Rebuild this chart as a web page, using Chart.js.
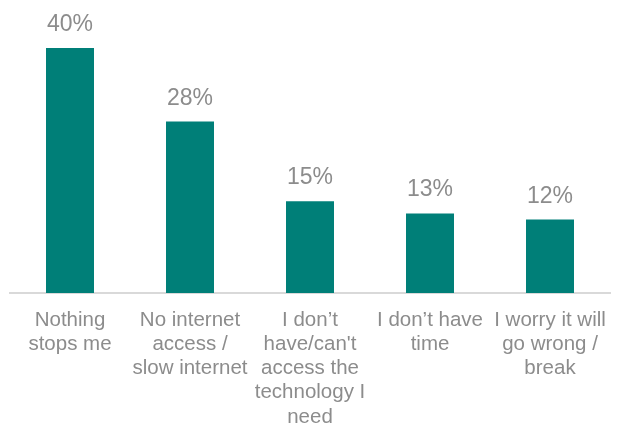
<!DOCTYPE html>
<html>
<head>
<meta charset="utf-8">
<script src="https://cdn.jsdelivr.net/npm/chart.js@4"></script>
<style>
    html, body { margin: 0; padding: 0; background: #ffffff; }
    #wrap { width: 617px; height: 425px; }
</style>
</head>
<body>
<div id="wrap"><canvas id="barriers_chart"></canvas></div>
<script>
'use strict';

// what stops people going online
const categories = [
    ['Nothing', 'stops me'],
    ['No internet', 'access /', 'slow internet'],
    ['I don\u2019t', 'have/can\'t', 'access the', 'technology I', 'need'],
    ['I don\u2019t have', 'time'],
    ['I worry it will', 'go wrong /', 'break']
];
const values = [40, 28, 15, 13, 12];
const value_labels = ['40%', '28%', '15%', '13%', '12%'];

const bar_colour = '#007f78';
const text_colour = '#8c8c8c';
const font_family = "'Liberation Sans', Arial, Helvetica, sans-serif";

// writes the percentage above each bar
const valueLabels = {
    id: 'valueLabels',
    afterDatasetsDraw(chart) {
        const ctx = chart.ctx;
        const meta = chart.getDatasetMeta(0);
        ctx.save();
        ctx.font = '23px ' + font_family;
        ctx.fillStyle = text_colour;
        ctx.textAlign = 'center';
        ctx.textBaseline = 'alphabetic';
        meta.data.forEach(function (bar, i) {
            ctx.fillText(value_labels[i], bar.x, bar.y - 17);
        });
        ctx.restore();
    }
};

let canvas = document.getElementById('barriers_chart').getContext('2d');
let myChart = new Chart(canvas, {
    type: 'bar',
    data: {
        labels: categories,
        datasets: [{
            data: values,
            backgroundColor: bar_colour,
            borderWidth: 0,
            categoryPercentage: 1,
            barPercentage: 0.4
        }]
    },
    plugins: [valueLabels],
    options: {
        responsive: true,
        maintainAspectRatio: false,
        animation: false,
        layout: {
            padding: { top: 48, left: 10, right: 7, bottom: -19 }
        },
        plugins: {
            legend: { display: false },
            tooltip: { enabled: false }
        },
        scales: {
            x: {
                grid: { display: false, drawTicks: false },
                border: { display: true, color: '#d9d9d9', width: 2 },
                // labels may hang past the plot edges, keep the plot full width
                afterFit: function (scale) {
                    scale.paddingLeft = 0;
                    scale.paddingRight = 0;
                },
                ticks: {
                    autoSkip: false,
                    maxRotation: 0,
                    minRotation: 0,
                    padding: 15,
                    color: text_colour,
                    font: { family: font_family, size: 20.5, lineHeight: 1.18 }
                }
            },
            y: {
                display: false,
                min: 0,
                max: 40
            }
        }
    }
});
</script>
</body>
</html>
